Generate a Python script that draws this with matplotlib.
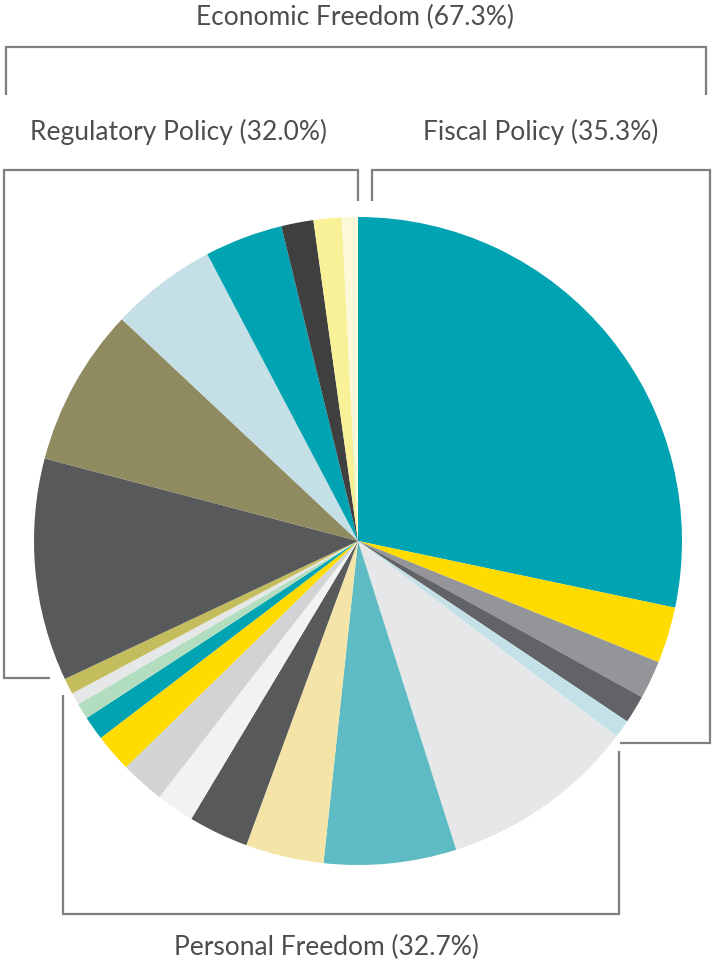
import matplotlib
matplotlib.use("Agg")
from matplotlib import pyplot as plt

# slice shares (%), clockwise from 12 o'clock
fiscal = [28.3, 2.8, 1.9, 1.4, 0.9]
personal = [9.8, 6.6, 3.9, 3.0, 1.9, 2.2, 1.9, 1.2, 0.8, 0.6, 0.8]
regulatory = [11.1, 7.9, 5.3, 3.9, 1.6, 1.4, 0.8]

fiscal_colors = ["#00A3B2", "#FFDB00", "#939598", "#626366", "#C4E1E7"]
personal_colors = ["#E6E7E8", "#5EBBC3", "#F4E4A8", "#58595B", "#F1F2F4",
                   "#D1D3D4", "#FFDB00", "#00A3B2", "#B3DDBF", "#E6E7E8",
                   "#C4BD5E"]
regulatory_colors = ["#58595B", "#8F8A60", "#C4E0E6", "#00A3B2", "#3F3F40",
                     "#F8F198", "#FCF9D9"]

labels = ["Economic Freedom (67.3%)", "Regulatory Policy (32.0%)",
          "Fiscal Policy (35.3%)", "Personal Freedom (32.7%)"]

W, H = 712, 969
values = fiscal + personal + regulatory
colors = fiscal_colors + personal_colors + regulatory_colors

fig = plt.figure(figsize=(W / 100, H / 100), dpi=100)
ax = fig.add_axes([0, 0, 1, 1])

ax.pie(values, colors=colors, startangle=90, counterclock=False,
       center=(358, H - 541), radius=324, frame=True,
       wedgeprops=dict(linewidth=0))
ax.set_xlim(0, W)
ax.set_ylim(0, H)
ax.axis("off")

def bracket(xs, ys):
    ax.plot(xs, [H - y for y in ys], color="#7f7f7f", lw=1.6,
            solid_joinstyle="miter", solid_capstyle="butt")

# brackets (pixel coords, y measured from top)
bracket([6, 6, 706, 706], [95, 47, 47, 95])
bracket([50, 4, 4, 358, 358], [678, 678, 170, 170, 201])
bracket([372, 372, 710, 710, 620], [201, 170, 170, 743, 743])
bracket([63, 63, 619, 619], [695, 914, 914, 751])

txt = dict(fontsize=19, color="#4d4d4d", family="Lato",
           fontweight="normal", ha="center", va="center")
ax.text(355, H - 17, labels[0], **txt)
ax.text(178, H - 132, labels[1], **txt)
ax.text(541, H - 132, labels[2], **txt)
ax.text(326, H - 947, labels[3], **txt)

fig.savefig("out.png", dpi=100)
